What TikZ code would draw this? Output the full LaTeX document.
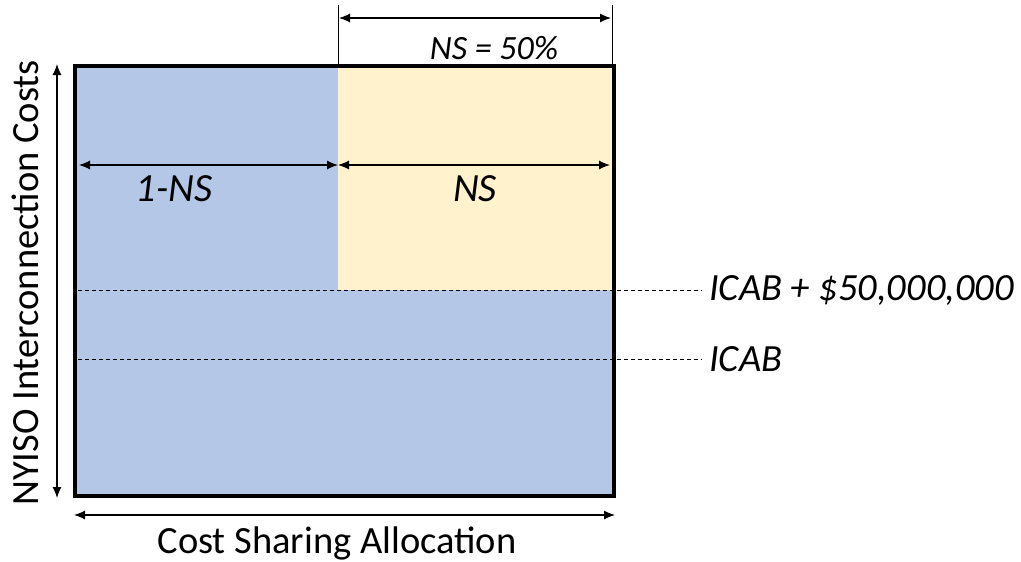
\documentclass[tikz,border=0pt]{standalone}
\usepackage{fontspec}
\setmainfont{Carlito}
\usetikzlibrary{arrows.meta}
\definecolor{bluefill}{HTML}{B4C7E7}
\definecolor{yellowfill}{HTML}{FFF2CC}
\tikzset{
  dimarrow/.style={line width=1.1pt,{Latex[length=11pt,width=9pt]}-{Latex[length=11pt,width=9pt]}},
  guide/.style={line width=0.6pt},
  dashguide/.style={line width=0.7pt,dash pattern=on 4pt off 3pt},
  lbl/.style={inner sep=0pt,font=\fontsize{38.5}{44}\selectfont},
  ilbl/.style={inner sep=0pt,font=\fontsize{38.5}{44}\selectfont\itshape},
}
\begin{document}
\begin{tikzpicture}[x=1pt,y=-1pt]
\useasboundingbox (0,0) rectangle (1021,562);
% regions
\fill[bluefill] (75,66) rectangle (614,496);
\fill[yellowfill] (338,66) rectangle (614,290);
% dashed levels
\coordinate (d1a) at (78,290); \coordinate (d1b) at (702,290);
\coordinate (d2a) at (78,359); \coordinate (d2b) at (702,359);
\draw[dashguide] (d1a) -- (d1b);
\draw[dashguide] (d2a) -- (d2b);
\node[ilbl,anchor=west] (icab50) at (709,290) {ICAB + \$50,000,000};
\node[ilbl,anchor=west] (icab) at (709,359) {ICAB};
% frame
\node[draw,line width=4.5pt,minimum width=539pt,minimum height=430pt,inner sep=0pt] (frame) at (344.5,281) {};
% top dimension
\coordinate (tl) at (338,5); \coordinate (tlb) at (338,64);
\coordinate (tr) at (612,5); \coordinate (trb) at (612,64);
\draw[guide] (tl) -- (tlb);
\draw[guide] (tr) -- (trb);
\coordinate (ta) at (339,18); \coordinate (tb) at (611,18);
\draw[dimarrow] (ta) -- (tb);
\node[ilbl,font=\fontsize{34}{40}\selectfont\itshape] (ns50) at (494,48) {NS = 50\%};
% inner arrows
\coordinate (ia) at (79,165); \coordinate (im) at (338,165); \coordinate (ib) at (610,165);
\draw[dimarrow] (ia) -- (im);
\draw[dimarrow] (im) -- (ib);
\node[ilbl,font=\fontsize{40}{46}\selectfont\itshape] (oneminus) at (174,189) {1-NS};
\node[ilbl,font=\fontsize{40}{46}\selectfont\itshape] (ns) at (475,189) {NS};
% left arrow
\coordinate (la) at (57,64); \coordinate (lb) at (57,498);
\draw[dimarrow] (la) -- (lb);
\node[lbl,rotate=90] (ylab) at (25,283) {NYISO Interconnection Costs};
% bottom arrow
\coordinate (ba) at (74,515); \coordinate (bb) at (615,515);
\draw[dimarrow] (ba) -- (bb);
\node[lbl] (xlab) at (337,543) {Cost Sharing Allocation};
\end{tikzpicture}
\end{document}
